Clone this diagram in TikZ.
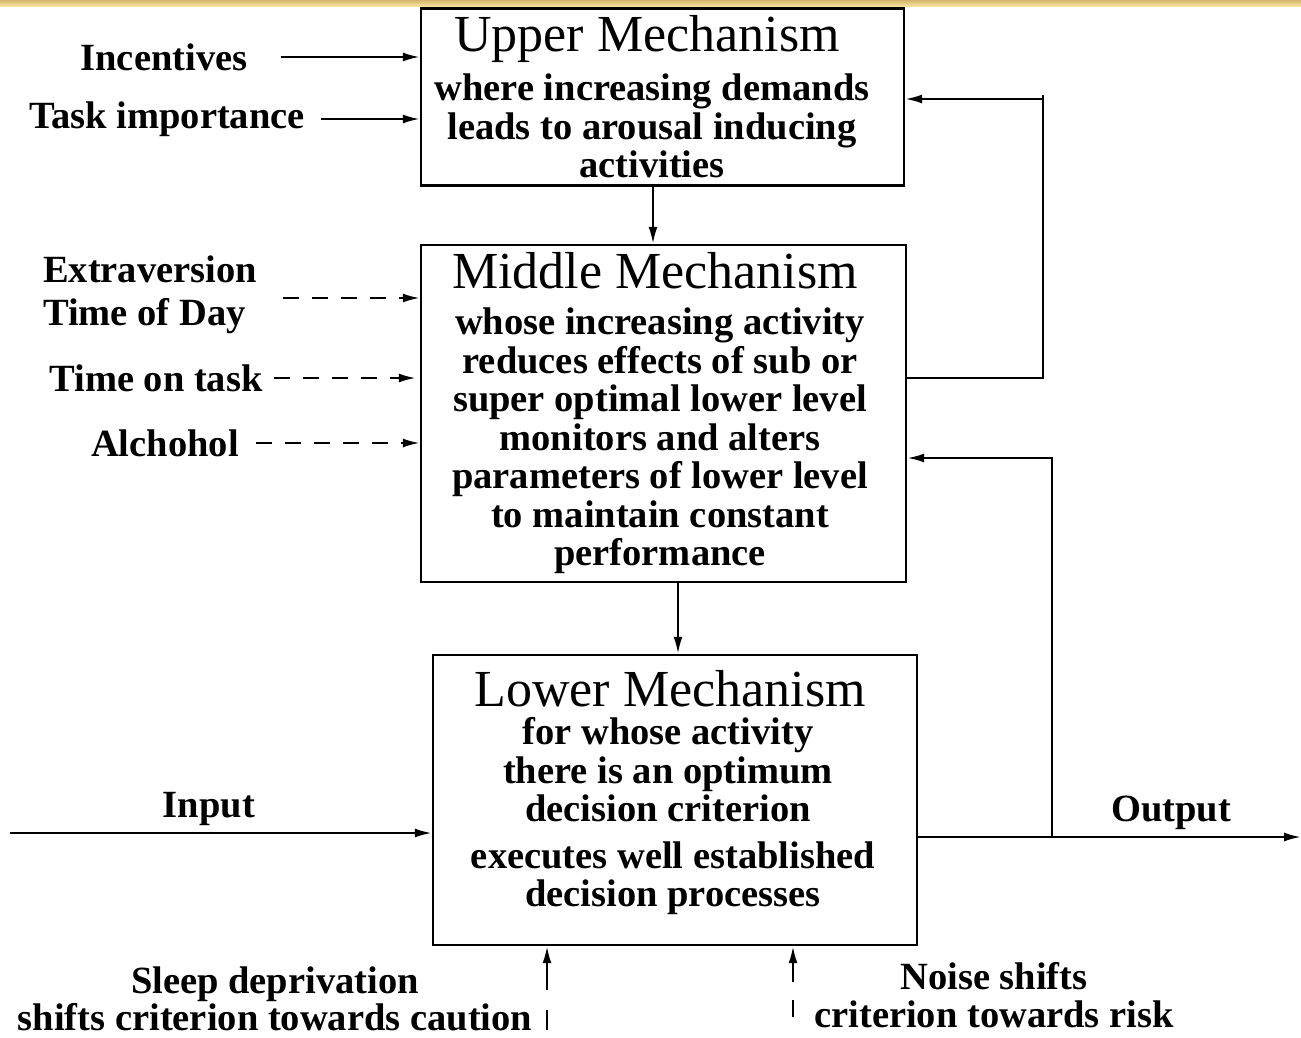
\documentclass[tikz,border=0pt]{standalone}
\usepackage{fontspec}
\setmainfont{Liberation Serif}
\usetikzlibrary{arrows.meta}

\tikzset{
  mechbox/.style={draw, line width=2.3pt, inner sep=0pt},
  mechtitle/.style={font=\fontsize{52}{58}\selectfont, inner sep=0pt},
  mechtext/.style={font=\bfseries\fontsize{38.5}{38.5}\selectfont, align=center, inner sep=0pt},
  lbl/.style={font=\bfseries\fontsize{38.5}{43}\selectfont, inner sep=0pt},
  arr/.style={line width=2.3pt, -{Latex[length=17pt,width=9pt]}},
  darr/.style={arr, dash pattern=on 16pt off 13pt},
}

\begin{document}
\begin{tikzpicture}[x=1pt,y=-1pt]
    \useasboundingbox (0,0) rectangle (1301,1037);

    % Header band
    \shade[top color={rgb,255:red,214;green,180;blue,110}, bottom color={rgb,255:red,248;green,226;blue,160}] (0,0) rectangle (1301,6);

    % Mechanism boxes
    \node[mechbox, minimum width=483pt, minimum height=177pt] (upper) at (662.5,97) {};
    \node[mechbox, minimum width=485pt, minimum height=337pt] (middle) at (663.5,413.5) {};
    \node[mechbox, minimum width=484pt, minimum height=290pt] (lower) at (675,800) {};

    % Box texts
    \node[mechtitle] (uppertitle) at (647,39) {Upper Mechanism};
    \node[mechtext] (uppertext) at (652,126) {where increasing demands\\leads to arousal inducing\\activities};
    \node[mechtitle] (middletitle) at (655,271) {Middle Mechanism};
    \node[mechtext] (middletext) at (660,441) {whose increasing activity\\reduces effects of sub or\\super optimal lower level\\monitors and alters\\parameters of lower level\\to maintain constant\\performance};
    \node[mechtitle] (lowertitle) at (670,689) {Lower Mechanism};
    \node[mechtext] (lowertext) at (668,770) {for whose activity\\there is an optimum\\decision criterion};
    \node[mechtext] (lowertextb) at (673,878) {executes well established\\decision processes};

    % Between boxes
    \draw[arr] ([xshift=-9.5pt]upper.south) -- ([xshift=-10.5pt]middle.north);
    \draw[arr] ([xshift=14.5pt]middle.south) -- ([xshift=3pt]lower.north);

    % Inputs to upper mechanism
    \node[lbl] (incent) at (164,57) {Incentives};
    \node[lbl] (taskimp) at (167,119) {Task importance};
    \draw[arr] ([xshift=33pt]incent.east) -- (upper.west |- incent);
    \draw[arr] ([xshift=16pt]taskimp.east) -- (upper.west |- taskimp);

    % Inputs to middle mechanism
    \node[lbl, align=left] (extra) at (150,295) {Extraversion\\Time of Day};
    \node[lbl] (timetask) at (156,378) {Time on task};
    \node[lbl] (alcohol) at (165,443) {Alchohol};
    \coordinate (extraarr) at (283,298);
    \draw[darr] (extraarr) -- (middle.west |- extraarr);
    \draw[darr] ([xshift=11pt]timetask.east) -- ([xshift=-4pt]middle.west |- timetask);
    \draw[darr] ([xshift=17pt]alcohol.east) -- (middle.west |- alcohol);

    % Feedback loops
    \coordinate (upturn) at (1043,378);
    \coordinate (uptop) at (1043,99);
    \draw[line width=2.3pt] (middle.east |- upturn) -- (upturn) -- ([yshift=4pt]uptop);
    \draw[arr] (uptop) -- (upper.east |- uptop);
    \coordinate (fb) at (1052,837);
    \coordinate (fbin) at (1052,458);
    \draw[arr] (fb) -- (fbin) -- (middle.east |- fbin);

    % Input and output
    \coordinate (in) at (10,833);
    \coordinate (out) at (1301,837);
    \node[lbl] (inputlbl) at (209,809) {Input};
    \node[lbl] (outputlbl) at (1171,813) {Output};
    \draw[arr] (in) -- (lower.west |- in);
    \draw[arr] (lower.east |- out) -- (out);

    % Criterion shifts
    \coordinate (sleep) at (547,1030);
    \coordinate (noise) at (793,1017);
    \draw[arr, dash pattern=on 20pt off 20pt on 200pt] (sleep) -- (lower.south -| sleep);
    \draw[arr, dash pattern=on 17pt off 18pt on 200pt] (noise) -- (lower.south -| noise);
    \node[lbl, align=center, font=\bfseries\fontsize{38.5}{35}\selectfont] (sleeplbl) at (275,999) {Sleep deprivation\\shifts criterion towards caution};
    \node[lbl, align=center, font=\bfseries\fontsize{38.5}{38}\selectfont] (noiselbl) at (994,995) {Noise shifts\\criterion towards risk};
\end{tikzpicture}
\end{document}
